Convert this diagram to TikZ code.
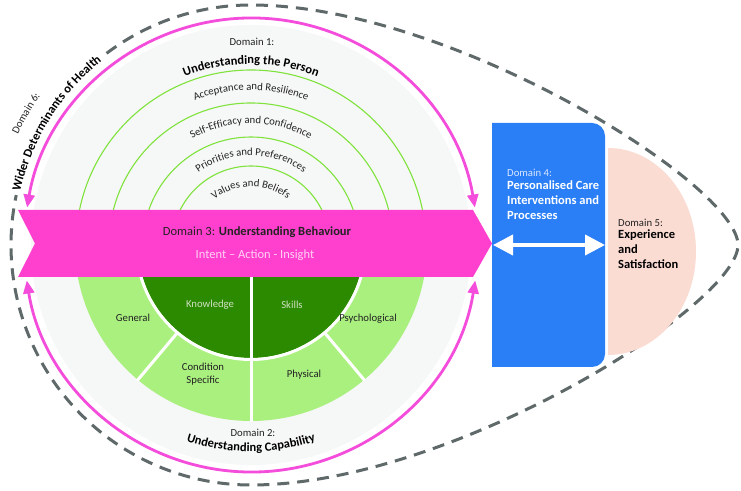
\documentclass[tikz,border=0pt]{standalone}
\usepackage{fontspec}
\setmainfont{Carlito}
\usetikzlibrary{arrows.meta,decorations.text}

\definecolor{bannerpink}{HTML}{FF40CF}
\definecolor{arcpink}{HTML}{F44CDB}
\definecolor{ringgreen}{HTML}{7FE33C}
\definecolor{lightgreen}{HTML}{AAF07F}
\definecolor{darkgreen}{HTML}{2C8A00}
\definecolor{careblue}{HTML}{2A7FF6}
\definecolor{salmon}{HTML}{FADCD2}
\definecolor{dashgrey}{HTML}{5F6969}
\definecolor{discgrey}{HTML}{F6F7F7}
\definecolor{textdark}{HTML}{222222}
\definecolor{pinktext}{HTML}{FFD2F5}
\definecolor{knowtext}{HTML}{CFE0C4}
\definecolor{dfourtext}{HTML}{DDE8FF}

\begin{document}
\begin{tikzpicture}[x=1pt, y=1pt,
            ring/.style={draw=ringgreen, line width=1.1pt},
            ringtext/.style={decorate, decoration={text along path, text align=center,
                text={|\fontsize{10.7}{12}\selectfont\color{textdark}|#1}}},
            titletext/.style={decorate, decoration={text along path, text align=center,
                text={|\bfseries\fontsize{12.5}{14}\selectfont\color{black}|#1}}},
            smalltext/.style={font=\fontsize{10.7}{13}\selectfont, text=textdark, inner sep=1pt},
            boldtext/.style={font=\bfseries\fontsize{12.5}{15}\selectfont, align=left},
            divider/.style={draw=white, line width=3pt},
            pinkarc/.style={draw=arcpink, line width=2.8pt,
                arrows={Triangle[length=13pt,width=11pt]-Triangle[length=13pt,width=11pt]}},
            outline/.style={draw=dashgrey, line width=3pt, dash pattern=on 12pt off 8pt},
            twoway/.style={draw=white, line width=4pt,
                arrows={Triangle[length=20pt,width=20pt]-Triangle[length=20pt,width=20pt]}}]

        \useasboundingbox (0,0) rectangle (741,490);
        \fill[white] (0,0) rectangle (741,490);
        \coordinate (hub) at (251,245);
        \coordinate (tip) at (738,245);

        % Domain 6 outline
        \draw[outline] ([shift={(127:240)}]hub) arc[start angle=127, end angle=90, radius=240]
            .. controls (451,485) and (738,305) .. (tip)
            .. controls (738,185) and (451,5) .. (251,5)
            arc[start angle=270, end angle=168, radius=240];

        \fill[discgrey] (hub) circle[radius=220];

        % Domain 1 rings
        \foreach \r in {175,142,108,79}
            \draw[ring] ([shift={(0:\r)}]hub) arc[start angle=0, end angle=180, radius=\r];

        % Domain 2 wheel
        \fill[lightgreen] (hub) -- ([shift={(180:176)}]hub) arc[start angle=180, end angle=360, radius=176] -- cycle;
        \fill[darkgreen] (hub) -- ([shift={(180:113)}]hub) arc[start angle=180, end angle=360, radius=113] -- cycle;
        \draw[divider] ([shift={(180:114.5)}]hub) arc[start angle=180, end angle=360, radius=114.5];
        \foreach \a in {230,310}
            \draw[divider] ([shift={(\a:114)}]hub) -- ([shift={(\a:177)}]hub);
        \draw[divider] (hub) -- ([shift={(270:177)}]hub);

        % Domain 3 banner
        \fill[bannerpink] (18,280) -- (473,280) -- (492,246.5) -- (473,213) -- (18,213) -- (35,246.5) -- cycle;

        % pink arrows
        \draw[pinkarc] ([shift={(9.5:227)}]hub) arc[start angle=9.5, end angle=170.5, radius=227];
        \draw[pinkarc] ([shift={(-9:227)}]hub) arc[start angle=-9, end angle=-171, radius=227];

        % Domain 4 and 5 shapes
        \fill[careblue] (492,123) -- (592,123) arc[start angle=-90, end angle=0, radius=13]
            -- (605,354) arc[start angle=0, end angle=90, radius=13] -- (492,367) -- cycle;
        \fill[salmon] (608,342) arc[start angle=90, end angle=-90, x radius=88, y radius=103.5] -- cycle;

        \coordinate (carein) at (493,245);
        \coordinate (careout) at (605,245);
        \draw[twoway] (carein) -- (careout);

        % Curved labels
        \path[titletext=Understanding the Person] ([shift={(150:181)}]hub) arc[start angle=150, end angle=30, radius=181];
        \path[ringtext=Acceptance and Resilience] ([shift={(170:155)}]hub) arc[start angle=170, end angle=10, radius=155];
        \path[ringtext=Self-Efficacy and Confidence] ([shift={(170:121.5)}]hub) arc[start angle=170, end angle=10, radius=121.5];
        \path[ringtext=Priorities and Preferences] ([shift={(175:89.5)}]hub) arc[start angle=175, end angle=5, radius=89.5];
        \path[ringtext=Values and Beliefs] ([shift={(178:58.5)}]hub) arc[start angle=178, end angle=2, radius=58.5];
        \path[titletext=Understanding Capability] ([shift={(210:206.5)}]hub) arc[start angle=210, end angle=330, radius=206.5];
        \path[ringtext={Domain 6:}] ([shift={(170:258)}]hub) arc[start angle=170, end angle=129.4, radius=258];
        \path[titletext=Wider Determinants of Health] ([shift={(180:237)}]hub) arc[start angle=180, end angle=116, radius=237];

        % Nodes
        \node[smalltext] (dom1) at (252,448) {Domain 1:};
        \node[smalltext] (dom2) at (253,57) {Domain 2:};
        \node[font=\fontsize{12.5}{14}\selectfont, text=textdark] (dom3) at (257,258) {Domain 3: \textbf{Understanding Behaviour}};
        \node[font=\fontsize{12.5}{14}\selectfont, text=pinktext] (intent) at (255,235) {Intent -- Action - Insight};

        \node[smalltext, text=knowtext] (knowledge) at (210,185) {Knowledge};
        \node[smalltext, text=knowtext] (skills) at (292,185) {Skills};
        \node[smalltext] (general) at (133,172) {General};
        \node[smalltext, align=center] (condition) at (203,115.5) {Condition\\Specific};
        \node[smalltext] (physical) at (304,115) {Physical};
        \node[smalltext] (psycho) at (368,171) {Psychological};

        \node[smalltext, text=dfourtext, anchor=base west, inner sep=0] (dom4) at (507,313.5) {Domain 4:};
        \node[boldtext, text=white, anchor=north west, inner sep=0] (care) at (507,309) {Personalised Care\\Interventions and\\Processes};
        \node[smalltext, anchor=base west, inner sep=0] (dom5) at (618,263.5) {Domain 5:};
        \node[boldtext, text=black, anchor=north west, inner sep=0] (satisf) at (618,260) {Experience\\and\\Satisfaction};
    \end{tikzpicture}
\end{document}
